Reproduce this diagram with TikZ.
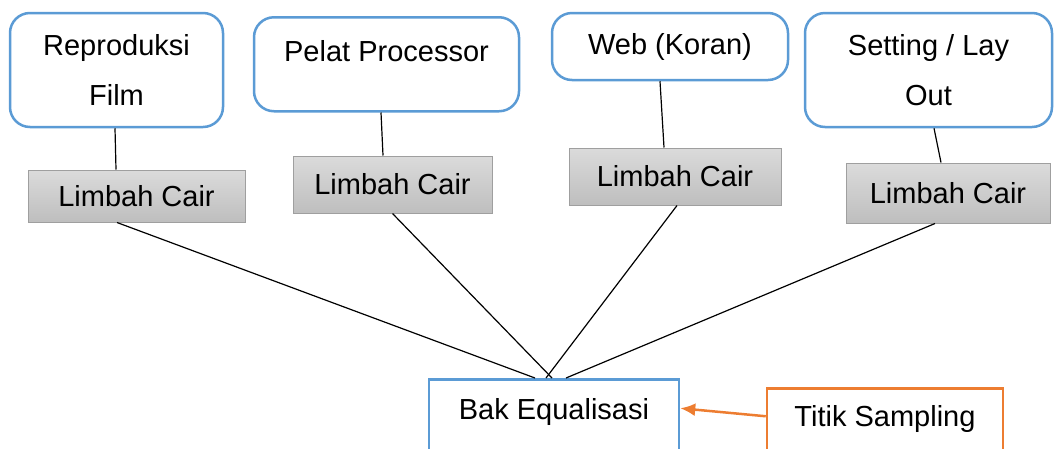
\documentclass[tikz,border=0pt]{standalone}
\usepackage{fontspec}
\setmainfont{Liberation Sans}
\usetikzlibrary{arrows.meta}

\definecolor{boxblue}{RGB}{91,155,213}
\definecolor{boxorange}{RGB}{237,125,49}
\definecolor{waste1}{RGB}{219,219,219}
\definecolor{waste2}{RGB}{190,190,190}

\begin{document}
\begin{tikzpicture}[x=1pt,y=-1pt,
		font=\fontsize{29pt}{50pt}\selectfont,
		source/.style={draw=boxblue,line width=2.5pt,rounded corners=20pt,fill=white,align=center},
		waste/.style={draw=gray!75,line width=1pt,top color=waste1,bottom color=waste2},
		tank/.style={draw=boxblue,line width=2.5pt,fill=white,inner ysep=0pt},
		sample/.style={draw=boxorange,line width=2.5pt,fill=white,inner ysep=0pt},
		link/.style={line width=1.2pt}]
				\useasboundingbox (0,0) rectangle (1056,448);
				\clip (0,0) rectangle (1056,448);
				
				% Sources of waste water
				\node[source,minimum width=213pt,minimum height=114pt] (film) at (116.5,70) {Reproduksi\\Film};
				\node[source,minimum width=265pt,inner ysep=0pt,text height=44.5pt,text depth=49.5pt,anchor=north] (pelat) at (386.5,16) {Pelat Processor};
				\node[source,minimum width=236pt,minimum height=67pt] (web) at (670,46.5) {Web (Koran)};
				\node[source,minimum width=247pt,minimum height=114pt] (setting) at (928.5,70) {Setting / Lay\\Out};
				
				% Liquid waste from each source
				\node[waste,minimum width=217pt,minimum height=52pt] (lc1) at (136.5,196) {Limbah Cair};
				\node[waste,minimum width=199pt,minimum height=57pt] (lc2) at (392.5,184.5) {Limbah Cair};
				\node[waste,minimum width=212pt,minimum height=57pt] (lc3) at (675,176.5) {Limbah Cair};
				\node[waste,minimum width=204pt,minimum height=60pt] (lc4) at (948,193) {Limbah Cair};
				
				% Equalisation tank and sampling point
				\node[tank,minimum width=250pt,text height=40pt,text depth=50pt,anchor=north] (bak) at (554,378) {Bak Equalisasi};
				\node[sample,minimum width=236pt,text height=38pt,text depth=50pt,anchor=north] (titik) at (885,387) {Titik Sampling};
				
				% Source to waste
				\draw[link] ([xshift=-1.5pt]film.south) -- ([xshift=-20.5pt]lc1.north);
				\draw[link] ([xshift=-5.5pt]pelat.south) -- ([xshift=-9.5pt]lc2.north);
				\draw[link] ([xshift=-10pt]web.south) -- ([xshift=-11pt]lc3.north);
				\draw[link] ([xshift=5.5pt]setting.south) -- ([xshift=-7pt]lc4.north);
				
				% Waste to tank
				\draw[link] ([xshift=-19.5pt]lc1.south) -- ([xshift=-19pt]bak.north);
				\draw[link] (lc2.south) -- ([xshift=-2pt]bak.north);
				\draw[link] ([xshift=2pt]lc3.south) -- ([xshift=-8pt]bak.north);
				\draw[link] ([xshift=-13pt]lc4.south) -- ([xshift=12pt]bak.north);
				
				% Sampling arrow
				\draw[boxorange,line width=2.5pt,-{Latex[length=15pt,width=13pt]}] ([yshift=16pt]titik.west) -- ([yshift=16pt]bak.east);
			\end{tikzpicture}
\end{document}
